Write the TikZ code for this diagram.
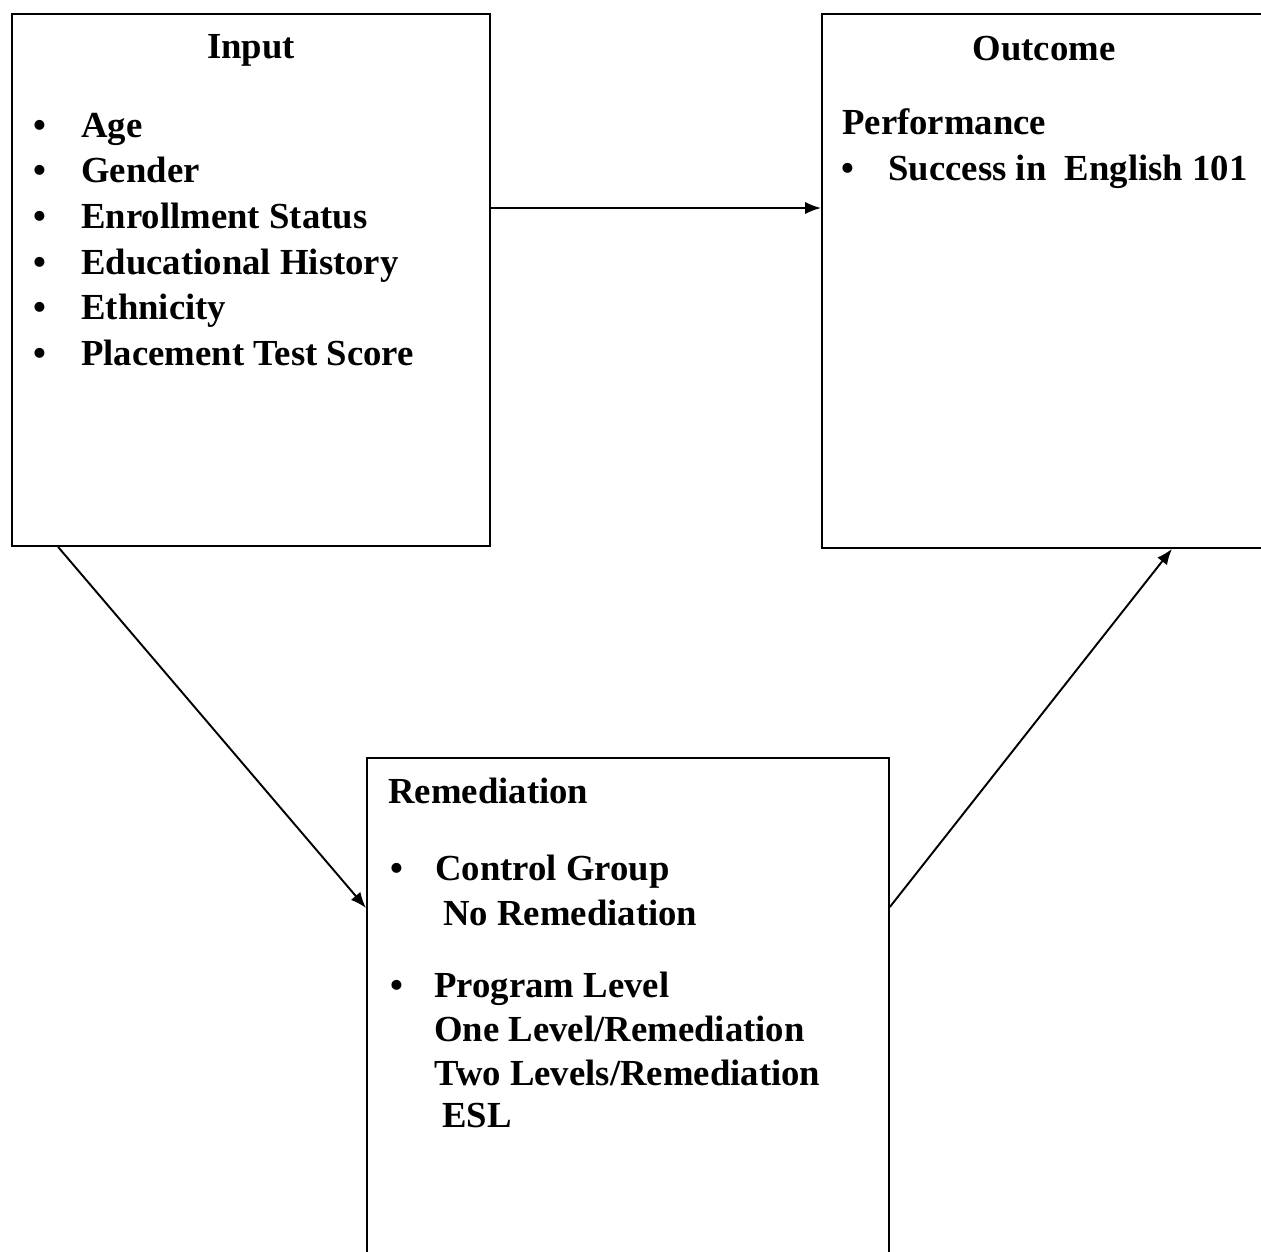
\documentclass[tikz,border=0pt]{standalone}
\usepackage{fontspec}
\setmainfont{Liberation Serif}
\usetikzlibrary{arrows.meta,calc}
\begin{document}
\begin{tikzpicture}[x=0.02cm,y=-0.02cm,
  box/.style={draw,line width=1.1pt,rectangle,inner sep=0pt,anchor=north west},
  txt/.style={anchor=base west,inner sep=0pt,font=\fontsize{20.9}{25}\selectfont\bfseries},
  ttl/.style={anchor=base,inner sep=0pt,font=\fontsize{20.9}{25}\selectfont\bfseries},
  bul/.style={anchor=base,inner sep=0pt,font=\fontsize{20.9}{25}\selectfont\bfseries},
  arr/.style={line width=1.1pt,-{Latex[length=9pt,width=7pt]}}]
\useasboundingbox (0,0) rectangle (1261,1251);
\clip (0,0) rectangle (1261,1251);
% boxes
\node[box,minimum width=9.56cm,minimum height=10.64cm] (inp) at (11,13) {};
\node[box,minimum width=8.88cm,minimum height=10.68cm] (out) at (821,13) {};
\node[box,minimum width=10.44cm,minimum height=9.98cm] (rem) at (366,757) {};
% Input text
\node[ttl] (inpT) at (251,58) {Input};
\node[bul] (ib1) at (40,137) {•};
\node[bul] (ib2) at (40,182) {•};
\node[bul] (ib3) at (40,228) {•};
\node[bul] (ib4) at (40,274) {•};
\node[bul] (ib5) at (40,319) {•};
\node[bul] (ib6) at (40,365) {•};
\node[txt] (i1) at (81,137) {Age};
\node[txt] (i2) at (81,182) {Gender};
\node[txt] (i3) at (81,228) {Enrollment Status};
\node[txt] (i4) at (81,274) {Educational History};
\node[txt] (i5) at (81,319) {Ethnicity};
\node[txt] (i6) at (81,365) {Placement Test Score};
% Outcome text
\node[ttl] (outT) at (1044,60) {Outcome};
\node[txt] (o1) at (842,134) {Performance};
\node[bul] (ob1) at (848,180) {•};
\node[txt] (o2) at (888,180) {Success in\ \ English 101};
% Remediation text
\node[txt] (r0) at (388,803) {Remediation};
\node[bul] (rb1) at (397,880) {•};
\node[txt] (r1) at (435,880) {Control Group};
\node[txt] (r2) at (443,925) {No Remediation};
\node[bul] (rb2) at (397,997) {•};
\node[txt] (r3) at (434,997) {Program Level};
\node[txt] (r4) at (434,1041) {One Level/Remediation};
\node[txt] (r5) at (434,1085) {Two Levels/Remediation};
\node[txt] (r6) at (442,1127) {ESL};
% connectors
\draw[arr] ($(inp.north east)+(0,195)$) -- ($(out.north west)+(0,195)$);
\draw[arr] ($(inp.south west)+(47,0)$) -- ($(rem.north west)+(0,151)$);
\draw[arr] ($(rem.north east)+(0,150)$) -- ($(out.south west)+(351,0)$);
\end{tikzpicture}
\end{document}
